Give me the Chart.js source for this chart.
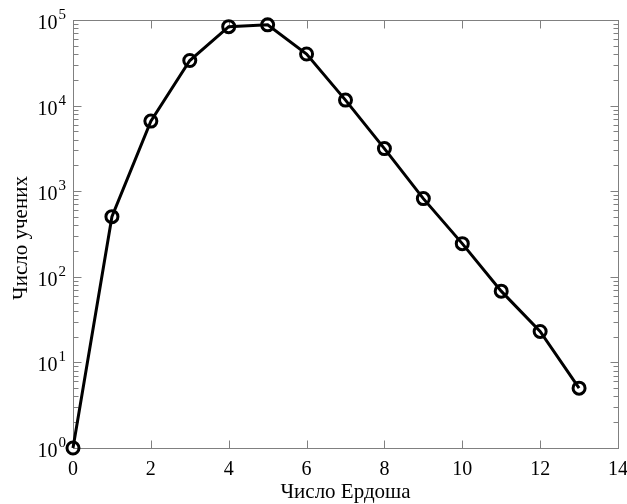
<!DOCTYPE html>
<html>
<head>
<meta charset="utf-8">
<script src="https://cdn.jsdelivr.net/npm/chart.js@4"></script>
<style>
  html, body { margin: 0; padding: 0; background: #fff; }
  #wrap { width: 627px; height: 504px; }
</style>
</head>
<body>
<div id="wrap"><canvas id="erdosChart" width="627" height="504"></canvas></div>
<script>
// Дані: число Ердоша -> кількість учених
const erdosNumbers = [0, 1, 2, 3, 4, 5, 6, 7, 8, 9, 10, 11, 12, 13];
const scientistCounts = [1, 504, 6593, 33605, 83642, 87760, 40014, 11591, 3146, 819, 244, 68, 23, 5];
const xTickValues = [0, 2, 4, 6, 8, 10, 12, 14];
const yDecadeExponents = [0, 1, 2, 3, 4, 5];
const xTitle = 'Число Ердоша';
const yTitle = 'Число учених';

const SERIF = '"Liberation Serif", "DejaVu Serif", serif';
const AXIS_COLOR = '#808080';

// Рамка, тики всередину і підписи осей
const matlabAxes = {
    id: 'matlabAxes',
    beforeDatasetsDraw(chart) {
        const ctx = chart.ctx;
        const area = chart.chartArea;
        const xs = chart.scales.x;
        const ys = chart.scales.y;
        const L = Math.round(area.left) + 0.5;
        const R = Math.round(area.right) + 0.5;
        const T = Math.round(area.top) + 0.5;
        const B = Math.round(area.bottom) + 0.5;

        ctx.save();
        ctx.strokeStyle = AXIS_COLOR;
        ctx.lineWidth = 1;
        ctx.strokeRect(L, T, R - L, B - T);

        ctx.beginPath();
        // x тики (знизу і зверху)
        xTickValues.forEach(v => {
            const px = Math.round(xs.getPixelForValue(v)) + 0.5;
            ctx.moveTo(px, B); ctx.lineTo(px, B - 8);
            ctx.moveTo(px, T); ctx.lineTo(px, T + 8);
        });
        // y тики: декади і мінорні
        yDecadeExponents.forEach(e => {
            const base = Math.pow(10, e);
            const py = Math.round(ys.getPixelForValue(base)) + 0.5;
            ctx.moveTo(L, py); ctx.lineTo(L + 8, py);
            ctx.moveTo(R, py); ctx.lineTo(R - 8, py);
            if (e < 5) {
                for (let m = 2; m <= 9; m++) {
                    const my = Math.round(ys.getPixelForValue(base * m)) + 0.5;
                    ctx.moveTo(L, my); ctx.lineTo(L + 5, my);
                    ctx.moveTo(R, my); ctx.lineTo(R - 5, my);
                }
            }
        });
        ctx.stroke();

        // підписи x
        ctx.fillStyle = '#000';
        ctx.font = '20px ' + SERIF;
        ctx.textAlign = 'center';
        ctx.textBaseline = 'alphabetic';
        xTickValues.forEach(v => {
            ctx.fillText(String(v), xs.getPixelForValue(v), area.bottom + 27);
        });

        // підписи y: 10 з показником степеня
        yDecadeExponents.forEach(e => {
            const py = ys.getPixelForValue(Math.pow(10, e));
            ctx.font = '15px ' + SERIF;
            const expW = ctx.measureText(String(e)).width;
            const expX = area.left - 7 - expW;
            ctx.textAlign = 'left';
            ctx.fillText(String(e), expX, py - 1);
            ctx.font = '20px ' + SERIF;
            ctx.textAlign = 'right';
            ctx.fillText('10', expX - 1, py + 9);
        });

        // назви осей
        ctx.font = '21px ' + SERIF;
        ctx.textAlign = 'center';
        ctx.fillText(xTitle, (area.left + area.right) / 2, 498);

        ctx.translate(27, (area.top + area.bottom) / 2 + 4);
        ctx.rotate(-Math.PI / 2);
        ctx.fillText(yTitle, 0, 0);
        ctx.restore();
    }
};

new Chart(document.getElementById('erdosChart'), {
    type: 'line',
    data: {
        datasets: [{
            data: erdosNumbers.map((n, i) => ({ x: n, y: scientistCounts[i] })),
            borderColor: '#000',
            borderWidth: 3,
            pointRadius: 6,
            pointBorderWidth: 3,
            pointBackgroundColor: 'rgba(0,0,0,0)',
            pointBorderColor: '#000',
            tension: 0,
            clip: false
        }]
    },
    options: {
        responsive: false,
        animation: false,
        devicePixelRatio: 1,
        layout: { padding: { left: 73, top: 20, right: 9, bottom: 56 } },
        plugins: {
            legend: { display: false },
            tooltip: { enabled: false }
        },
        scales: {
            x: { type: 'linear', min: 0, max: 14, display: false },
            y: { type: 'logarithmic', min: 1, max: 100000, display: false }
        }
    },
    plugins: [matlabAxes]
});
</script>
</body>
</html>
